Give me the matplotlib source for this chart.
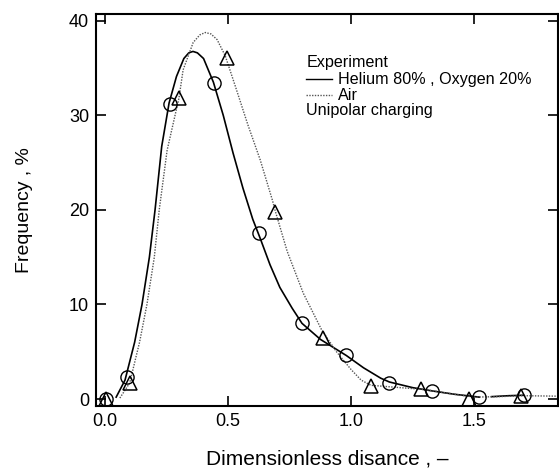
import matplotlib.pyplot as plt

plt.rcParams['font.family'] = ['Liberation Sans', 'DejaVu Sans']

# measured points (markers)
he_x = [0.004, 0.089, 0.264, 0.443, 0.626, 0.80, 0.98, 1.155, 1.33, 1.52, 1.70]
he_y = [0.0, 2.3, 31.2, 33.4, 17.5, 8.0, 4.65, 1.7, 0.85, 0.2, 0.4]

air_x = [0.004, 0.10, 0.30, 0.495, 0.69, 0.886, 1.08, 1.285, 1.48, 1.69]
air_y = [0.0, 1.7, 31.8, 36.1, 19.8, 6.5, 1.4, 1.1, 0.0, 0.3]

# fitted curves
he_curve_x = [0.045, 0.081, 0.12, 0.15, 0.18, 0.203, 0.23, 0.26, 0.29, 0.32, 0.34,
              0.357, 0.375, 0.40, 0.44, 0.48, 0.52, 0.56, 0.60, 0.63, 0.67, 0.71,
              0.76, 0.80, 0.875, 0.98, 1.05, 1.12, 1.155, 1.25, 1.33, 1.42, 1.52]
he_curve_y = [0.2, 2.0, 6.0, 10.0, 15.0, 20.0, 26.7, 31.3, 34.1, 36.0, 36.6,
              36.75, 36.6, 36.0, 33.5, 30.0, 26.0, 22.3, 19.0, 17.0, 14.2, 11.8,
              9.6, 8.0, 6.3, 4.6, 3.3, 2.2, 1.8, 1.2, 0.85, 0.5, 0.2]
he_tail_x = [1.57, 1.64, 1.70]
he_tail_y = [0.25, 0.35, 0.4]

air_curve_x = [0.06, 0.10, 0.14, 0.17, 0.20, 0.22, 0.252, 0.30, 0.317, 0.358, 0.385,
               0.407, 0.43, 0.455, 0.488, 0.53, 0.58, 0.63, 0.68, 0.69, 0.74, 0.805,
               0.88, 0.94, 1.0, 1.04, 1.08, 1.2, 1.3, 1.42, 1.5, 1.6, 1.7, 1.84]
air_curve_y = [0.1, 1.7, 6.0, 10.0, 15.0, 20.0, 26.3, 31.8, 34.8, 37.7, 38.5,
               38.75, 38.6, 38.0, 36.3, 33.0, 29.0, 25.3, 21.0, 20.0, 15.6, 11.2,
               7.3, 5.0, 3.1, 2.0, 1.45, 1.2, 1.0, 0.5, 0.2, 0.25, 0.35, 0.3]

x_ticks = [0.0, 0.5, 1.0, 1.5]
y_ticks = [0, 10, 20, 30, 40]

fig = plt.figure(figsize=(5.59, 4.69), dpi=100)
ax = fig.add_axes([0.1717, 0.1343, 0.8265, 0.8357])

ax.plot(he_curve_x, he_curve_y, color='black', lw=1.2)
ax.plot(he_tail_x, he_tail_y, color='black', lw=1.2)
ax.plot(air_curve_x, air_curve_y, color='#555555', lw=1.0, linestyle=(0, (1, 1)))

ax.plot(he_x, he_y, linestyle='none', marker='o', markersize=9.5,
        markerfacecolor='none', markeredgecolor='black', markeredgewidth=1.0)
ax.plot(air_x, air_y, linestyle='none', marker='^', markersize=9.5,
        markerfacecolor='none', markeredgecolor='black', markeredgewidth=1.1)

ax.set_xlim(-0.037, 1.84)
ax.set_ylim(-0.74, 40.7)
ax.set_xticks(x_ticks)
ax.set_xticklabels(['0.0', '0.5', '1.0', '1.5'])
ax.set_yticks(y_ticks)

ax.tick_params(direction='in', length=7, width=1.2, top=True, right=True,
               labelsize=13, pad=5)
for s in ax.spines.values():
    s.set_linewidth(1.5)

ax.set_xlabel('Dimensionless disance , \u2013', fontsize=15, labelpad=14)
ax.set_ylabel('Frequency , %', fontsize=14, labelpad=26)

# legend block drawn by hand
fs = 11.6
ax.text(0.817, 35.6, 'Experiment', fontsize=fs, va='center')
ax.plot([0.817, 0.923], [33.8, 33.8], color='black', lw=1.0)
ax.text(0.947, 33.8, 'Helium 80% , Oxygen 20%', fontsize=fs, va='center')
ax.plot([0.817, 0.923], [32.1, 32.1], color='#555555', lw=1.0, linestyle=(0, (1, 1)))
ax.text(0.947, 32.1, 'Air', fontsize=fs, va='center')
ax.text(0.817, 30.5, 'Unipolar charging', fontsize=fs, va='center')

fig.savefig('out.png', dpi=100)
